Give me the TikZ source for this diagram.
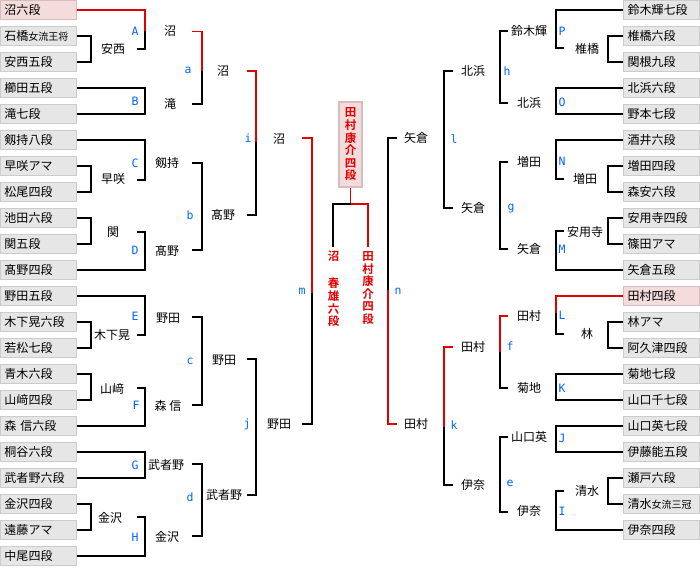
\documentclass[tikz,border=0pt]{standalone}
\usepackage{fontspec}
\setmainfont{Noto Sans CJK JP}[BoldFont={Noto Sans CJK JP Bold}]
\newfontfamily\labfont{DejaVu Sans Mono}
\definecolor{myred}{RGB}{225,0,0}
\definecolor{labblue}{RGB}{0,102,255}
\definecolor{boxfill}{RGB}{230,230,230}
\definecolor{boxline}{RGB}{204,204,204}
\definecolor{pinkfill}{RGB}{245,220,220}
\definecolor{pinkline}{RGB}{215,190,190}
\tikzset{
  br/.style={line width=1.4pt, black},
  rbr/.style={line width=1.4pt, myred},
  box/.style={draw=boxline, fill=boxfill, line width=1.2pt, minimum width=76pt, minimum height=19pt, text width=68pt, inner xsep=4pt, inner ysep=0pt, align=left, font=\fontsize{12}{14}\selectfont},
  winbox/.style={box, draw=pinkline, fill=pinkfill},
  lab/.style={text=labblue, font=\labfont\fontsize{11.5}{12}\selectfont, inner sep=0pt},
  nm/.style={font=\fontsize{12}{14}\selectfont, inner sep=0pt},
  redv/.style={text=myred, align=center, inner sep=0pt, font=\bfseries\fontsize{11.5}{12.6}\selectfont},
}
\newcommand\LB[3][box]{\node[#1] (L#2) at (38.5,{10+26*#2}) {#3};}
\newcommand\RB[3][box]{\node[#1] (R#2) at (661.5,{10+26*#2}) {#3};}
\newcommand\sm[1]{{\fontsize{10}{12}\selectfont #1}}
\begin{document}
\begin{tikzpicture}[x=1pt,y=-1pt]
\fill[white] (0,0) rectangle (700,567);
\useasboundingbox (0,0) rectangle (700,567);
% left boxes
\LB[winbox]{0}{沼六段}
\LB{1}{石橋\sm{女流王将}}
\LB{2}{安西五段}
\LB{3}{櫛田五段}
\LB{4}{滝七段}
\LB{5}{剱持八段}
\LB{6}{早咲アマ}
\LB{7}{松尾四段}
\LB{8}{池田六段}
\LB{9}{関五段}
\LB{10}{髙野四段}
\LB{11}{野田五段}
\LB{12}{木下晃六段}
\LB{13}{若松七段}
\LB{14}{青木六段}
\LB{15}{山﨑四段}
\LB{16}{森 信六段}
\LB{17}{桐谷六段}
\LB{18}{武者野六段}
\LB{19}{金沢四段}
\LB{20}{遠藤アマ}
\LB{21}{中尾四段}
% right boxes
\RB{0}{鈴木輝七段}
\RB{1}{椎橋六段}
\RB{2}{関根九段}
\RB{3}{北浜六段}
\RB{4}{野本七段}
\RB{5}{酒井六段}
\RB{6}{増田四段}
\RB{7}{森安六段}
\RB{8}{安用寺四段}
\RB{9}{篠田アマ}
\RB{10}{矢倉五段}
\RB[winbox]{11}{田村四段}
\RB{12}{林アマ}
\RB{13}{阿久津四段}
\RB{14}{菊地七段}
\RB{15}{山口千七段}
\RB{16}{山口英七段}
\RB{17}{伊藤能五段}
\RB{18}{瀬戸六段}
\RB{19}{清水\sm{女流三冠}}
\RB{20}{伊奈四段}
% ---------- left round 1
\draw[rbr] (L0.east) -| (145,31);
\draw[br] (145,31) -- (145,49) -- (137,49);
\draw[br] (L1.east) -| (91,62) -- (L2.east);
\draw[br] (L3.east) -| (145,114) -- (L4.east);
\draw[br] (L5.east) -| (145,180) -- (137,180);
\draw[br] (L6.east) -| (91,192) -- (L7.east);
\draw[br] (137,232) -- (145,232) |- (L10.east);
\draw[br] (L8.east) -| (91,244) -- (L9.east);
\draw[br] (L11.east) -| (145,335) -- (137,335);
\draw[br] (L12.east) -| (91,348) -- (L13.east);
\draw[br] (137,388) -- (145,388) |- (L16.east);
\draw[br] (L14.east) -| (91,400) -- (L15.east);
\draw[br] (L17.east) -| (145,478) -- (L18.east);
\draw[br] (137,517) -- (145,517) |- (L21.east);
\draw[br] (L19.east) -| (91,530) -- (L20.east);
% left round 2
\draw[rbr] (192,31.5) -- (202,31.5) -- (202,70.7);
\draw[br] (202,70.7) -- (202,104) -- (192,104);
\draw[br] (192,163) -| (202,250) -- (192,250);
\draw[br] (192,317) -| (202,405) -- (192,405);
\draw[br] (192,464) -| (202,536) -- (192,536);
% left round 3
\draw[rbr] (247,71) -- (256,71) -- (256,142);
\draw[br] (256,142) -- (256,215) -- (247,215);
\draw[br] (247,359) -| (256,495) -- (247,495);
% left semi
\draw[rbr] (302,138) -- (312,138) -- (312,293);
\draw[br] (312,293) -- (312,424) -- (302,424);
% centre
\node[draw=pinkline, fill=pinkfill, line width=1.2pt, minimum width=23pt, minimum height=85pt, inner sep=0pt] (champ) at (350.5,144.5) {};
\node[redv] (champt) at (350.5,144.5) {田\\村\\康\\介\\四\\段};
\coordinate (cj) at (350.5,204);
\draw[rbr] (champ.south) -- (cj) -- (368,204) -- (368,247);
\draw[br] (cj) -- (333,204) -- (333,247);
\node[redv] (finL) at (333.5,289) {沼\\\strut\\春\\雄\\六\\段};
\node[redv] (finR) at (368,288) {田\\村\\康\\介\\四\\段};
% right semi
\draw[br] (397,138) -- (388,138) -- (388,290);
\draw[rbr] (388,290) -- (388,424) -- (397,424);
% right round 3
\draw[br] (453,71) -| (444,208) -- (453,208);
\draw[rbr] (453,347) -- (444,347) -- (444,427);
\draw[br] (444,427) -- (444,485) -- (453,485);
% right round 2
\draw[br] (508,31) -| (500,103) -- (508,103);
\draw[br] (508,162) -| (500,249) -- (508,249);
\draw[rbr] (508,316) -- (500,316) -- (500,352);
\draw[br] (500,352) -- (500,388) -- (508,388);
\draw[br] (508,437) -| (500,512) -- (508,512);
% right round 1
\draw[br] (R0.west) -| (556,48) -- (564,48);
\draw[br] (R1.west) -| (608,62) -- (R2.west);
\draw[br] (R3.west) -| (556,114) -- (R4.west);
\draw[br] (R5.west) -| (556,179) -- (564,179);
\draw[br] (R6.west) -| (608,192) -- (R7.west);
\draw[br] (564,231) -- (556,231) |- (R10.west);
\draw[br] (R8.west) -| (608,244) -- (R9.west);
\draw[rbr] (R11.west) -| (556,313);
\draw[br] (556,313) -- (556,334) -- (564,334);
\draw[br] (R12.west) -| (608,348) -- (R13.west);
\draw[br] (R14.west) -| (556,400) -- (R15.west);
\draw[br] (R16.west) -| (556,452) -- (R17.west);
\draw[br] (564,491) -- (556,491) |- (R20.west);
\draw[br] (R18.west) -| (608,504) -- (R19.west);
% winner names left
\node[nm] (wl1) at (113,49) {安西};
\node[nm] (wl2) at (113,179) {早咲};
\node[nm] (wl3) at (113,232) {関};
\node[nm] (wl4) at (112,335) {木下晃};
\node[nm] (wl5) at (112,389) {山﨑};
\node[nm] (wl6) at (110,518) {金沢};
\node[nm] (wA) at (170,31) {沼};
\node[nm] (wB) at (170,104) {滝};
\node[nm] (wC) at (167,163) {剱持};
\node[nm] (wD) at (167,251) {髙野};
\node[nm] (wE) at (168,318) {野田};
\node[nm] (wF) at (168,406) {森 信};
\node[nm] (wG) at (166,465) {武者野};
\node[nm] (wH) at (167,537) {金沢};
\node[nm] (wa) at (223,71) {沼};
\node[nm] (wb) at (223,215) {髙野};
\node[nm] (wc) at (224,360) {野田};
\node[nm] (wd) at (224,495) {武者野};
\node[nm] (wi) at (279,139) {沼};
\node[nm] (wj) at (279,424) {野田};
% winner names right
\node[nm] (wn1) at (416,138) {矢倉};
\node[nm] (wn2) at (416,424) {田村};
\node[nm] (wl) at (473,71) {北浜};
\node[nm] (wg2) at (473,208) {矢倉};
\node[nm] (wf2) at (473,347) {田村};
\node[nm] (we2) at (473,485) {伊奈};
\node[nm] (wP) at (529,31) {鈴木輝};
\node[nm] (wO) at (529,103) {北浜};
\node[nm] (wN) at (529,162) {増田};
\node[nm] (wM) at (529,249) {矢倉};
\node[nm] (wL) at (529,316) {田村};
\node[nm] (wK) at (529,388) {菊地};
\node[nm] (wJ) at (529,437) {山口英};
\node[nm] (wI) at (529,511) {伊奈};
\node[nm] (wr1) at (587,49) {椎橋};
\node[nm] (wr2) at (585,179) {増田};
\node[nm] (wr3) at (585,232) {安用寺};
\node[nm] (wr4) at (587,334) {林};
\node[nm] (wr5) at (587,491) {清水};
% labels
\node[lab] (lA) at (135,31) {A};
\node[lab] (lB) at (135,101) {B};
\node[lab] (lC) at (135,163) {C};
\node[lab] (lD) at (135,250) {D};
\node[lab] (lE) at (135,316) {E};
\node[lab] (lF) at (136,405) {F};
\node[lab] (lG) at (135,465) {G};
\node[lab] (lH) at (135,537) {H};
\node[lab] (la) at (188,70) {a};
\node[lab] (lb) at (190,215) {b};
\node[lab] (lc) at (190,361) {c};
\node[lab] (ld) at (190,497) {d};
\node[lab] (li) at (248,138) {i};
\node[lab] (lj) at (247,424) {j};
\node[lab] (lm) at (302,291) {m};
\node[lab] (lP) at (562,31) {P};
\node[lab] (lO) at (562,102) {O};
\node[lab] (lN) at (562,161) {N};
\node[lab] (lM) at (562,249) {M};
\node[lab] (lL) at (562,315) {L};
\node[lab] (lK) at (562,388) {K};
\node[lab] (lJ) at (562,438) {J};
\node[lab] (lI) at (562,511) {I};
\node[lab] (lh) at (507,71) {h};
\node[lab] (lg) at (511,209) {g};
\node[lab] (lf) at (510,346) {f};
\node[lab] (le) at (510,483) {e};
\node[lab] (ll) at (454,139) {l};
\node[lab] (lk) at (454,425) {k};
\node[lab] (ln) at (398,291) {n};
\end{tikzpicture}
\end{document}
